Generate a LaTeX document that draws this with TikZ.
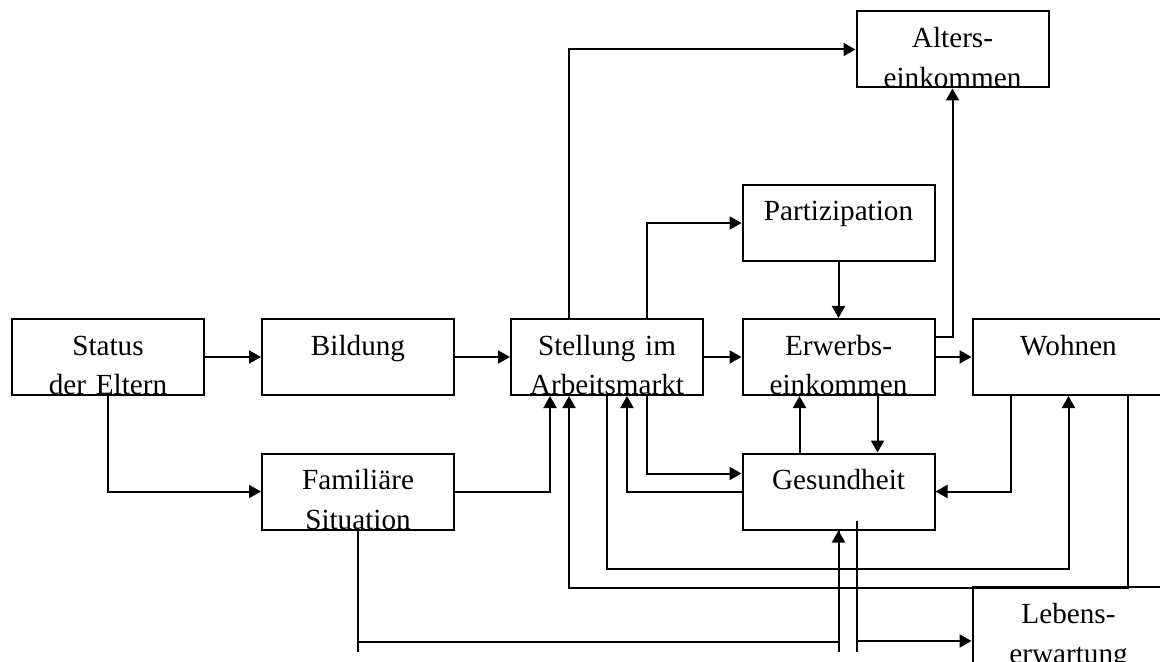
\documentclass[tikz,border=0pt]{standalone}
\usepackage{fontspec}
\setmainfont{Liberation Serif}
\usepackage{tikz}
\usetikzlibrary{arrows.meta}
\tikzset{
    factor-box/.style = {draw, line width=1pt, rectangle, anchor=north west, inner sep=0pt, text width=96pt, align=center, text height=18pt, text depth=20pt, font=\fontsize{14.6}{20}\selectfont},
    flow-arrow/.style = {line width=1pt, -{Triangle[length=6pt,width=6.5pt]}},
    flow-line/.style = {line width=1pt},
}
\begin{document}
\begin{tikzpicture}[x=0.5pt, y=-0.5pt]
\useasboundingbox (0,0) rectangle (1160,662);
\clip (0,0) rectangle (1160,662);
\node [factor-box] (status) at (11,318) {Status\\der Eltern};
\node [factor-box] (bildung) at (261,318) {Bildung};
\node [factor-box] (stellung) at (510,318) {Stellung im\\Arbeitsmarkt};
\node [factor-box] (erwerb) at (741.5,318) {Erwerbs-\\einkommen};
\node [factor-box] (wohnen) at (971.5,318) {Wohnen};
\node [factor-box] (familie) at (261,452.5) {Familiäre\\Situation};
\node [factor-box] (gesund) at (741.5,452.5) {Gesundheit};
\node [factor-box] (partiz) at (741.5,184) {Partizipation};
\node [factor-box] (alters) at (855.5,10.5) {Alters-\\einkommen};
\node [factor-box] (lebens) at (971.5,586) {Lebens-\\erwartung};

\draw [flow-arrow] (status) -- (bildung);
\draw [flow-arrow] (bildung) -- (stellung);
\draw [flow-arrow] (stellung) -- (erwerb);
\draw [flow-arrow] (erwerb) -- (wohnen);
\draw [flow-arrow] (status.south) |- (familie.west);
\draw [flow-arrow] (familie.east) -| ([xshift=-28.5pt]stellung.south);
\draw [flow-arrow] ([xshift=-19pt]stellung.north) |- (alters.west);
\draw [flow-arrow] ([xshift=20pt]stellung.north) |- (partiz.west);
\draw [flow-arrow] (partiz) -- (erwerb);
\draw [flow-arrow] ([yshift=10pt]erwerb.east) -| (alters.south);
\draw [flow-arrow] ([xshift=-19.5pt]gesund.north) -- ([xshift=-19.5pt]erwerb.south);
\draw [flow-arrow] ([xshift=19.5pt]erwerb.south) -- ([xshift=19.5pt]gesund.north);
\draw [flow-arrow] ([xshift=20pt]stellung.south) |- ([yshift=9pt]gesund.west);
\draw [flow-arrow] (gesund.west) -| ([xshift=10pt]stellung.south);
\draw [flow-arrow] ([xshift=-28.75pt]wohnen.south) |- (gesund.east);
\draw [flow-arrow] (stellung.south) -- ++(0,173) -| (wohnen.south);
\draw [flow-arrow] ([xshift=29.5pt]wohnen.south) -- ++(0,192) -| ([xshift=-19pt]stellung.south);

\draw [flow-line] (familie.south) -- ++(0,121.5);
\draw [flow-line] (gesund.south) -- ++(0,121.5);
\draw [flow-arrow] ([yshift=-55.75pt]familie.south) -| (gesund.south);
\draw [flow-line] ([xshift=9.25pt,yshift=4.75pt]gesund.south) -- ++(0,131);
\draw [flow-arrow] ([xshift=9.25pt]gesund.south) |- ([yshift=-8pt]lebens.west);
\end{tikzpicture}
\end{document}
